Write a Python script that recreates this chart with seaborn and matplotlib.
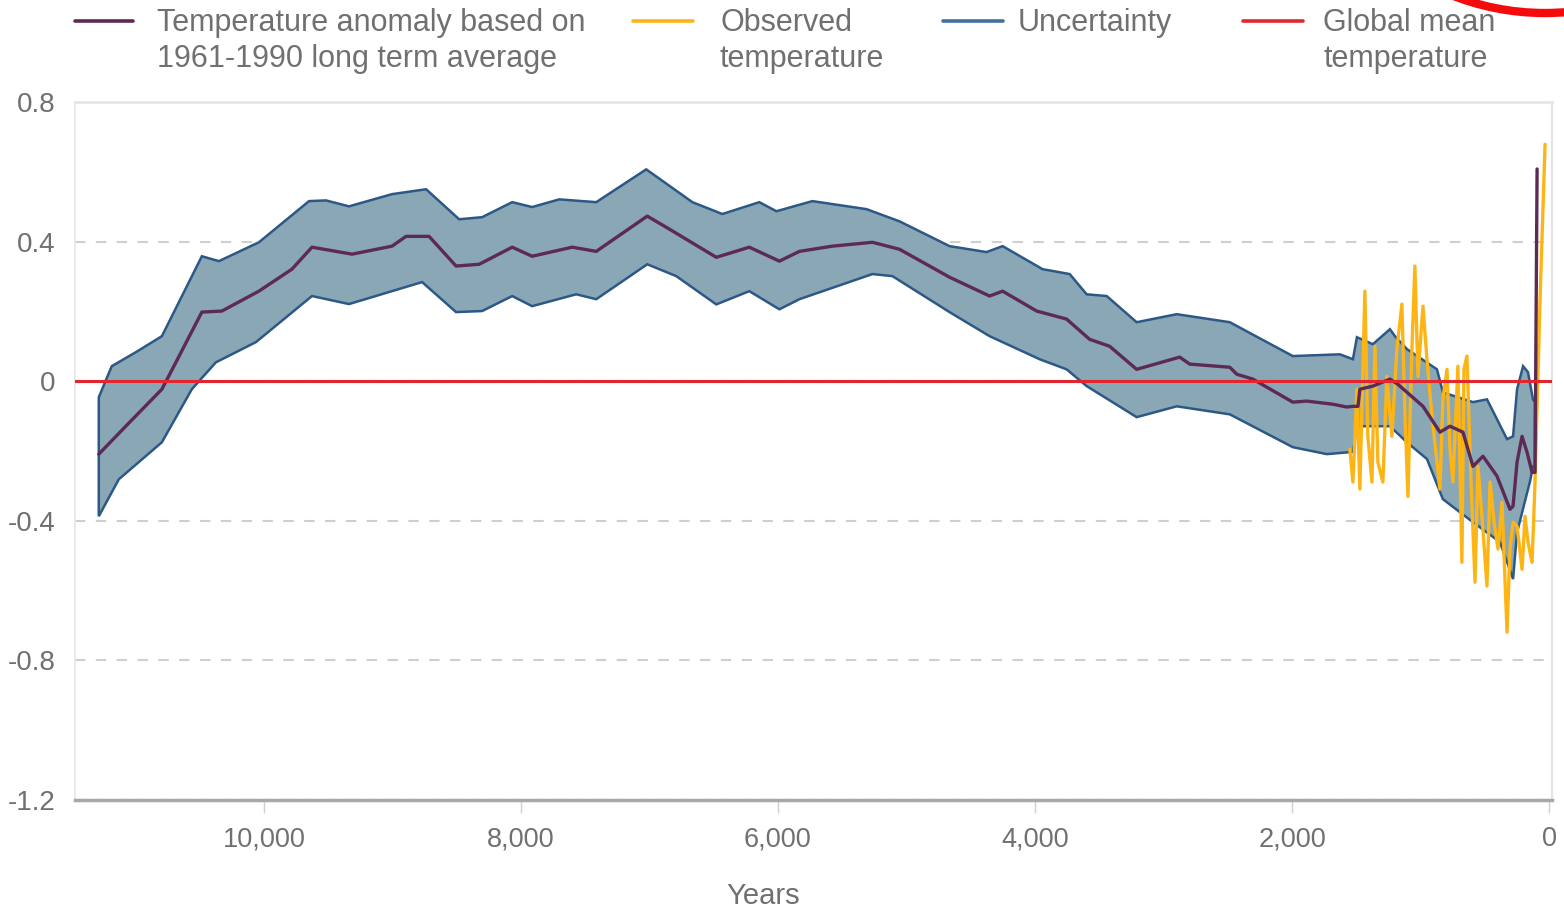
import matplotlib
matplotlib.use("Agg")
import matplotlib.pyplot as plt
from matplotlib.lines import Line2D
from matplotlib.patches import Ellipse
import seaborn as sns
import pandas as pd

# ---------------- data (years before present, anomaly in deg C) ----------------
mean_years = [11285, 11075, 10794, 10685, 10483, 10327, 10039, 9782, 9626, 9314, 9003, 8894,
              8715, 8505, 8325, 8068, 7913, 7601, 7414, 7017, 6846, 6480, 6223, 5989, 5833,
              5576, 5265, 5054, 4665, 4353, 4252, 3987, 3754, 3575, 3419, 3209, 2874, 2796,
              2484, 2430, 2305, 1994, 1885, 1682, 1573, 1526, 1487, 1472, 1371, 1238, 1176,
              981, 849, 771, 670, 592, 514, 405, 304, 280, 249, 210, 171, 132, 109, 93]
mean_vals = [-0.209, -0.129, -0.023, 0.054, 0.198, 0.201, 0.258, 0.321, 0.384, 0.364, 0.387, 0.415,
             0.415, 0.330, 0.335, 0.384, 0.358, 0.384, 0.372, 0.473, 0.436, 0.355, 0.384, 0.344, 0.372,
             0.387, 0.398, 0.378, 0.298, 0.244, 0.258, 0.201, 0.178, 0.120, 0.100, 0.034, 0.069, 0.049,
             0.040, 0.020, 0.006, -0.060, -0.057, -0.066, -0.074, -0.072, -0.072, -0.023, -0.014, 0.006, -0.009,
             -0.072, -0.146, -0.129, -0.146, -0.244, -0.215, -0.272, -0.367, -0.358, -0.232, -0.158, -0.204, -0.261, -0.261, 0.608]

upper_years = [11285, 11184, 10997, 10794, 10483, 10350, 10039, 9649, 9517, 9338, 9003, 8738,
               8481, 8302, 8068, 7913, 7702, 7414, 7025, 6666, 6433, 6145, 6012, 5732, 5311,
               5054, 4665, 4377, 4252, 3941, 3730, 3598, 3442, 3209, 2897, 2484, 1994, 1628,
               1526, 1495, 1371, 1238, 1199, 1106, 872, 826, 592, 483, 327, 280, 249, 202, 164, 125, 110]
upper_vals = [-0.046, 0.043, 0.083, 0.129, 0.358, 0.344, 0.398, 0.516, 0.518, 0.501, 0.536, 0.550,
              0.464, 0.470, 0.513, 0.499, 0.521, 0.513, 0.607, 0.513, 0.479, 0.513, 0.487, 0.516, 0.493,
              0.458, 0.387, 0.370, 0.387, 0.321, 0.307, 0.249, 0.244, 0.169, 0.192, 0.169, 0.072, 0.077,
              0.063, 0.126, 0.106, 0.149, 0.129, 0.092, 0.034, -0.032, -0.060, -0.052, -0.166, -0.158, -0.023, 0.043, 0.026, -0.052, -0.060]

lower_years = [11285, 11129, 10794, 10561, 10374, 10062, 9626, 9338, 8769, 8505, 8302, 8068,
               7913, 7570, 7414, 7017, 6791, 6480, 6223, 5989, 5833, 5265, 5109, 4665, 4353,
               3964, 3754, 3598, 3209, 2897, 2484, 1994, 1729, 1573, 1526, 1495, 1238, 1106,
               950, 826, 592, 382, 280, 249, 148, 125, 110]
lower_vals = [-0.387, -0.281, -0.175, -0.023, 0.054, 0.112, 0.244, 0.221, 0.284, 0.198, 0.201, 0.244,
              0.215, 0.249, 0.235, 0.335, 0.301, 0.220, 0.258, 0.206, 0.235, 0.307, 0.301, 0.198, 0.129,
              0.063, 0.034, -0.014, -0.103, -0.072, -0.095, -0.189, -0.209, -0.204, -0.203, -0.129, -0.129, -0.175,
              -0.223, -0.338, -0.404, -0.461, -0.567, -0.433, -0.287, -0.244, -0.240]

obs_years = [1550, 1526, 1495, 1472, 1433, 1410, 1378, 1355, 1332, 1293, 1262, 1223, 1184, 1145,
             1121, 1098, 1067, 1044, 1020, 981, 950, 911, 872, 849, 826, 794, 771, 748, 709, 678,
             662, 639, 607, 576, 553, 522, 483, 459, 428, 397, 366, 327, 304, 280, 249, 210, 187,
             164, 132, 109, 70, 31]
obs_vals = [-0.195, -0.289, -0.023, -0.309, 0.258, -0.158, -0.289, 0.100, -0.232, -0.289, 0.014, -0.158,
            0.092, 0.221, -0.100, -0.330, 0.092, 0.330, 0.014, 0.215, 0.063, -0.100, -0.232, -0.309, -0.052,
            0.034, -0.195, -0.289, 0.043, -0.519, 0.034, 0.072, -0.289, -0.576, -0.244, -0.387, -0.587,
            -0.289, -0.404, -0.481, -0.347, -0.719, -0.481, -0.404, -0.415, -0.539, -0.387, -0.461, -0.519,
            -0.289, 0.235, 0.679]

global_mean = 0.0

x_ticks = [10000, 8000, 6000, 4000, 2000, 0]
x_tick_labels = ["10,000", "8,000", "6,000", "4,000", "2,000", "0"]
y_ticks = [0.8, 0.4, 0, -0.4, -0.8, -1.2]
y_tick_labels = ["0.8", "0.4", "0", "-0.4", "-0.8", "-1.2"]

legend_labels = ["Temperature anomaly based on\n1961-1990 long term average",
                 "Observed\ntemperature", "Uncertainty", "Global mean\ntemperature"]
x_label = "Years"

# ---------------- style ----------------
sns.set_theme(style="white")
plt.rcParams['font.family'] = ['Liberation Sans', 'DejaVu Sans']

C_PURPLE = "#5c2a55"
C_YELLOW = "#fdb515"
C_FILL = "#8aa7b6"
C_EDGE = "#2c5886"
C_LEG_BLUE = "#40709e"
C_RED = "#e3262d"
C_TEXT = "#707070"

W, H = 1564, 909
fig = plt.figure(figsize=(W / 100, H / 100), dpi=100)
ax = fig.add_axes([75 / W, 109 / H, 1477 / W, 698 / H])

# uncertainty band polygon
poly_x = upper_years + lower_years[::-1]
poly_y = upper_vals + lower_vals[::-1]
ax.fill(poly_x, poly_y, facecolor=C_FILL, edgecolor=C_EDGE, linewidth=1.8, zorder=2)

df_obs = pd.DataFrame({"year": obs_years, "val": obs_vals})
df_mean = pd.DataFrame({"year": mean_years, "val": mean_vals})
sns.lineplot(data=df_obs, x="year", y="val", ax=ax, color=C_YELLOW, linewidth=2.4,
             sort=False, estimator=None, zorder=3)
sns.lineplot(data=df_mean, x="year", y="val", ax=ax, color=C_PURPLE, linewidth=2.4,
             sort=False, estimator=None, zorder=4)
ax.axhline(global_mean, color=C_RED, linewidth=2.2, zorder=5)

ax.set_xlim(11470, -23)
ax.set_ylim(-1.2, 0.8)
ax.set_xticks(x_ticks)
ax.set_xticklabels(x_tick_labels)
ax.set_yticks(y_ticks)
ax.set_yticklabels(y_tick_labels)

ax.yaxis.grid(True, linestyle=(0, (5, 5)), color="#cfcfcf", linewidth=1.5)
ax.xaxis.grid(False)
ax.set_axisbelow(True)

ax.tick_params(axis="y", length=0, pad=14, labelsize=20, labelcolor=C_TEXT)
ax.tick_params(axis="x", length=9, width=1, color="#d0d0d0", direction="out", pad=10,
               labelsize=19.5, labelcolor=C_TEXT, bottom=True)

for side, col, lw in [("top", "#e6e6e6", 2.0), ("left", "#e6e6e6", 1.2),
                      ("right", "#e3e3e3", 1.5), ("bottom", "#a8a8a8", 2.5)]:
    ax.spines[side].set_visible(True)
    ax.spines[side].set_color(col)
    ax.spines[side].set_linewidth(lw)

ax.set_xlabel(x_label, fontsize=21, color=C_TEXT)
ax.set_ylabel("")
ax.xaxis.set_label_coords(0.466, -0.117)

# ---------------- legend (manual, top row) ----------------
leg_colors = [C_PURPLE, C_YELLOW, C_LEG_BLUE, C_RED]
handle_x = [(75, 133), (633, 693), (943, 1003), (1243, 1303)]
text_x = [157, 720, 1018, 1323]
line_y = 21
for lab, col, (hx0, hx1), tx in zip(legend_labels, leg_colors, handle_x, text_x):
    fig.add_artist(Line2D([hx0 / W, hx1 / W], [1 - line_y / H, 1 - line_y / H],
                          transform=fig.transFigure, color=col, linewidth=2.6))
    fig.text(tx / W, 1 - 8 / H, lab, ha="left", va="top", fontsize=22,
             color=C_TEXT, linespacing=1.28)

# red annotation arc in the upper-right corner
fig.add_artist(Ellipse((1545 / W, 1150 / H), 2 * 254 / W, 2 * 254 / H,
                       transform=fig.transFigure, fill=False, edgecolor="#f40c0c", linewidth=6))

fig.savefig("out.png", dpi=100)
